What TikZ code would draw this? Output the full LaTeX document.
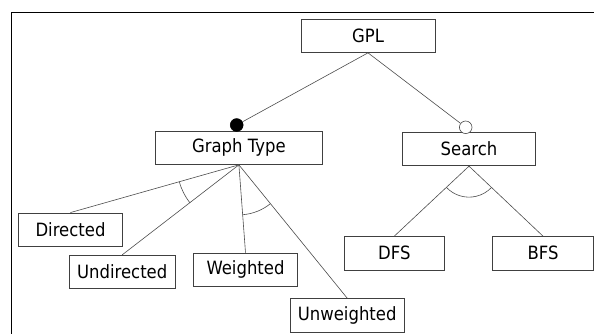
\documentclass[tikz,border=0pt]{standalone}
\usepackage{fontspec}
\setmainfont{DejaVu Sans}[FakeStretch=0.9]
\usetikzlibrary{angles}
\begin{document}
\begin{tikzpicture}[x=1pt,y=-1pt,
  feature/.style={draw=black!75, line width=0.8pt, inner sep=0pt,
    minimum height=33.5pt, text=black,
    font=\fontsize{18.3}{21}\selectfont},
  link/.style={draw=black!70, line width=0.6pt},
  mandatory/.style={circle, fill=black, draw=black, line width=0.6pt,
    inner sep=0pt, minimum size=12.8pt},
  optional/.style={circle, fill=white, draw=black!70, line width=0.6pt,
    inner sep=0pt, minimum size=12.6pt},
  group/.style={draw=black!70, line width=0.6pt}]
  \useasboundingbox (0,0) rectangle (594,334);
  % frame
  \draw[line width=1.3pt] (594,12.5) -- (11.7,12.5) -- (11.7,334);

  % features
  \node[feature, minimum width=134pt]   (gpl)  at (368,35.7)   {GPL};
  \node[feature, minimum width=167.7pt] (gt)   at (238.9,147.7) {Graph Type};
  \node[feature, minimum width=133.4pt] (srch) at (469,149)    {Search};
  \node[feature, minimum width=104.4pt] (dir)  at (70.5,229.7) {Directed};
  \node[feature, minimum width=105.7pt] (und)  at (122.2,272)  {Undirected};
  \node[feature, minimum width=104.4pt] (wei)  at (245.5,269.7) {Weighted};
  \node[feature, minimum width=114.3pt] (unw)  at (347.2,315.3) {Unweighted};
  \node[feature, minimum width=100pt]   (dfs)  at (394.3,253.3) {DFS};
  \node[feature, minimum width=100.6pt] (bfs)  at (543,253.3)  {BFS};

  % mandatory / optional markers
  \node[mandatory] (gtdot) at (236.7,125) {};
  \node[optional]  (sdot)  at (465.7,127.3) {};

  \draw[link] (gpl.south) -- (gtdot);
  \draw[link] (gpl.south) -- (sdot);

  % anchor points for group arcs
  \coordinate (gtS) at (gt.south);
  \coordinate (sS)  at (srch.south);
  \coordinate (dirN) at (dir.north);
  \coordinate (undN) at (und.north);
  \coordinate (weiN) at (wei.north);
  \coordinate (unwN) at (unw.north);
  \coordinate (dfsN) at (dfs.north);
  \coordinate (bfsN) at (bfs.north);

  \draw[link] (gtS) -- (dirN);
  \draw[link] (gtS) -- (undN);
  \draw[link] (gtS) -- (weiN);
  \draw[link] (gtS) -- (unwN);
  \draw[link] (sS) -- (dfsN);
  \draw[link] (sS) -- (bfsN);

  \pic[group, angle radius=62pt] {angle = dirN--gtS--undN};
  \pic[group, angle radius=50pt] {angle = weiN--gtS--unwN};
  \pic[group, angle radius=31pt] {angle = dfsN--sS--bfsN};
\end{tikzpicture}
\end{document}
